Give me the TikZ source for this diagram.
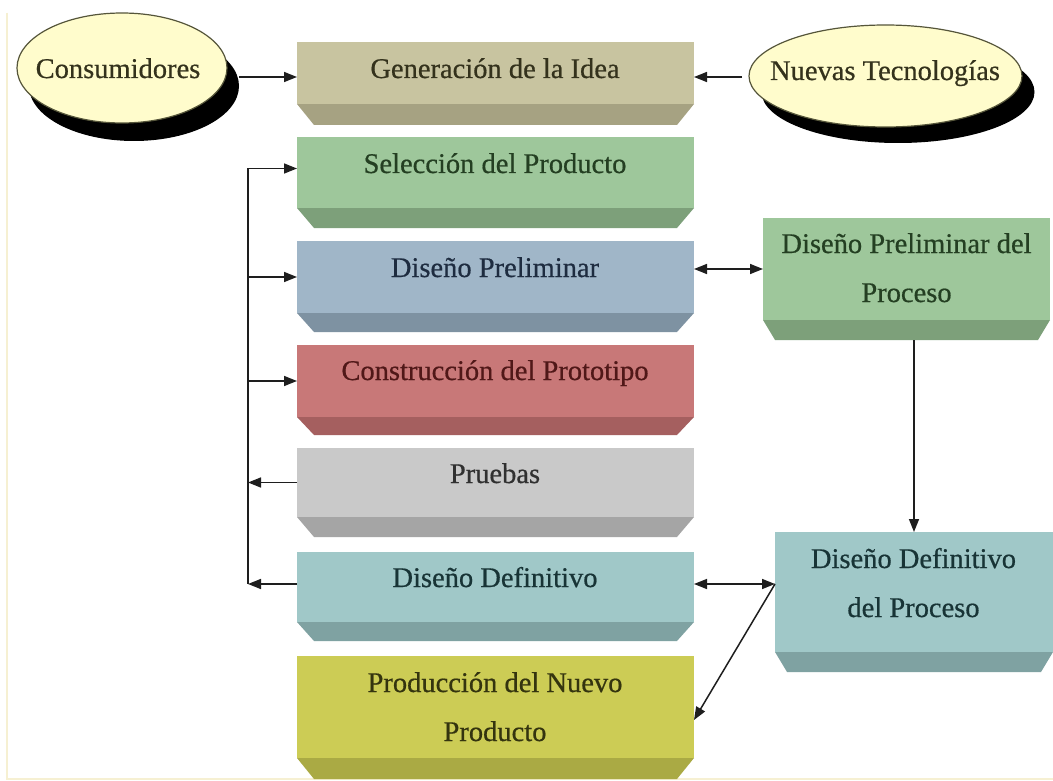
\documentclass[tikz,border=0pt]{standalone}
\usepackage{fontspec}
\setmainfont{Liberation Serif}[FakeBold=0.6]
\usetikzlibrary{arrows.meta,shapes.geometric,calc}
\definecolor{genf}{HTML}{C8C4A0}\definecolor{genb}{HTML}{A6A282}\definecolor{gent}{HTML}{34321C}
\definecolor{self}{HTML}{9EC79B}\definecolor{selb}{HTML}{7DA07A}\definecolor{selt}{HTML}{243F22}
\definecolor{dpf}{HTML}{A0B6C8}\definecolor{dpb}{HTML}{7E92A2}\definecolor{dpt}{HTML}{1E2C40}
\definecolor{conf}{HTML}{C87878}\definecolor{conb}{HTML}{A55F5F}\definecolor{cont}{HTML}{501818}
\definecolor{pruf}{HTML}{C9C9C9}\definecolor{prub}{HTML}{A5A5A5}\definecolor{prut}{HTML}{303030}
\definecolor{ddf}{HTML}{A0C8C8}\definecolor{ddb}{HTML}{7FA2A2}\definecolor{ddt}{HTML}{183436}
\definecolor{prodf}{HTML}{CCCC55}\definecolor{prodb}{HTML}{AAAA44}\definecolor{prodt}{HTML}{34340F}
\definecolor{elly}{HTML}{FFFCCC}\definecolor{elll}{HTML}{55553A}
\definecolor{linec}{HTML}{1E1E1E}\definecolor{framec}{HTML}{F6F0D2}
\newcommand\bevbox[8]{%
  \fill[#8b] ({#2},{#5}) -- ({#4},{#5}) -- ({#4-#7},{#6}) -- ({#2+#7},{#6}) -- cycle;
  \node[face, fill=#8f, minimum width={(#4-#2)*1pt}, minimum height={(#5-#3)*1pt}, anchor=north west] (#1) at ({#2},{#3}) {};
  \coordinate (#1-b) at ({(#2+#4)/2},{#6});
}
\tikzset{
  face/.style={inner sep=0pt, outer sep=0pt, draw=none, rectangle},
  lbl/.style={font=\fontsize{28.5}{49}\selectfont, inner sep=0pt, align=center, anchor=base},
  arr/.style={line width=1.5pt, draw=linec, -{Triangle[length=13pt,width=10pt]}},
  darr/.style={line width=1.5pt, draw=linec, {Triangle[length=13pt,width=10pt]}-{Triangle[length=13pt,width=10pt]}},
  ell/.style={ellipse, inner sep=0pt, outer sep=0pt},
}
\begin{document}
\begin{tikzpicture}[x=1pt,y=-1pt]
\useasboundingbox (0,0) rectangle (1053,781);
\fill[white] (0,0) rectangle (1053,781);
\draw[framec, line width=2pt] (7,13) -- (7,779) -- (1053,779);

% boxes of the main column
\bevbox{gen}{297}{42}{694}{104}{125}{17}{gen}
\bevbox{sel}{297}{137}{694}{208}{228}{17}{sel}
\bevbox{dp}{297}{241}{694}{313}{332}{17}{dp}
\bevbox{con}{297}{345}{694}{417}{435}{17}{con}
\bevbox{pru}{297}{448}{694}{517}{537}{17}{pru}
\bevbox{dd}{297}{552}{694}{622}{641}{17}{dd}
\bevbox{prod}{297}{656}{694}{758}{779}{17}{prod}
% boxes of the right column
\bevbox{dpp}{763}{218}{1050}{320}{340}{12}{sel}
\bevbox{ddp}{775}{532}{1053}{652}{672}{12}{dd}

% labels (multi-line labels are placed by their last baseline)
\node[lbl, text=gent] (gen-t) at (495,78) {Generación de la Idea};
\node[lbl, text=selt] (sel-t) at (495,173) {Selección del Producto};
\node[lbl, text=dpt] (dp-t) at (495,277) {Diseño Preliminar};
\node[lbl, text=cont] (con-t) at (495,380) {Construcción del Prototipo};
\node[lbl, text=prut] (pru-t) at (495,483) {Pruebas};
\node[lbl, text=ddt] (dd-t) at (495,587) {Diseño Definitivo};
\node[lbl, text=prodt] (prod-t) at (495,741) {Producción del Nuevo\\Producto};
\node[lbl, text=selt] (dpp-t) at (906.5,302) {Diseño Preliminar del\\Proceso};
\node[lbl, text=ddt] (ddp-t) at (913.5,617) {Diseño Definitivo\\del Proceso};

% ellipses
\node[ell, fill=black, minimum width=210pt, minimum height=110pt] (cons-sh) at (134,86) {};
\node[ell, draw=elll, fill=elly, line width=1.2pt, minimum width=210pt, minimum height=110pt] (cons) at (122,68) {};
\node[lbl, text=gent] (cons-t) at (118,78) {Consumidores};
\node[ell, fill=black, minimum width=273pt, minimum height=102pt] (nue-sh) at (898,92) {};
\node[ell, draw=elll, fill=elly, line width=1.2pt, minimum width=273pt, minimum height=102pt] (nue) at (885.5,76) {};
\node[lbl, text=gent] (nue-t) at (885,80) {Nuevas Tecnologías};

% connectors
\coordinate (bus) at (248,0);
\coordinate (gin) at ([yshift=-4pt]gen.west);
\coordinate (gout) at ([yshift=-4pt]gen.east);
\coordinate (selin) at ([yshift=4pt]sel.west);
\coordinate (ddl) at ([yshift=3pt]dd.west);
\coordinate (ddr) at ([yshift=3pt]dd.east);
\coordinate (prodin) at ([yshift=-13pt]prod.east);

\draw[arr] (cons-sh.east |- gin) -- (gin);
\draw[arr, shorten <=7pt] (nue.west |- gout) -- (gout);

\draw[line width=1.5pt, linec] (bus |- selin) -- (bus |- ddl);
\draw[arr] (bus |- selin) -- (selin);
\draw[arr] (bus |- dp.west) -- (dp.west);
\draw[arr] (bus |- con.west) -- (con.west);
\draw[arr] (pru.west) -- (bus |- pru.west);
\draw[arr] (ddl) -- (bus |- ddl);

\draw[darr] (dpp.west -| dp.east) -- (dpp.west);
\draw[arr] (ddp.north |- dpp-b) -- (ddp.north);
\draw[darr] (ddr) -- (ddr -| ddp.west);
\draw[arr] (ddr -| ddp.west) -- (prodin);
\end{tikzpicture}
\end{document}
